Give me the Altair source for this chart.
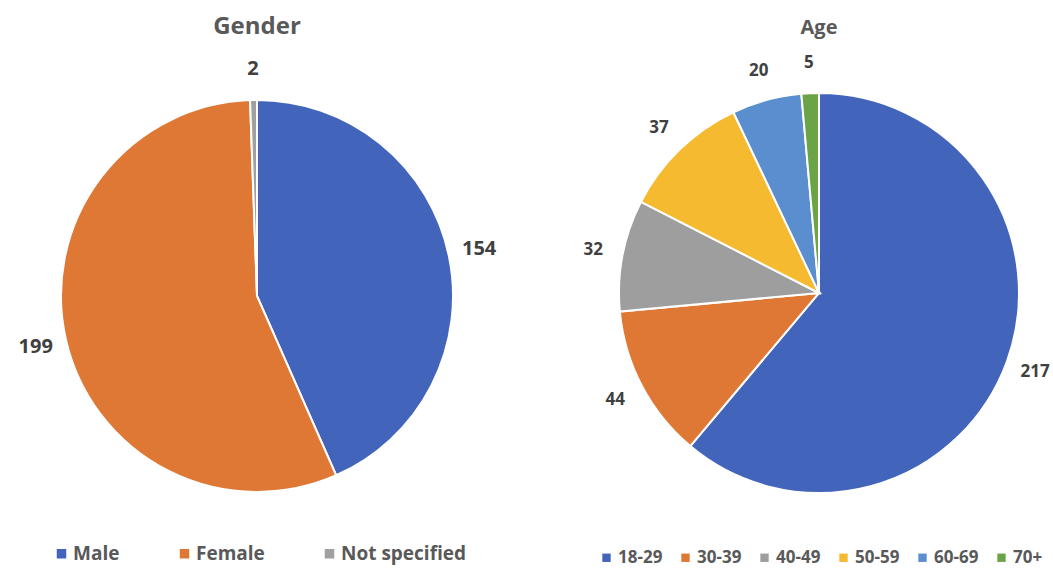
import altair as alt
import pandas as pd

# Survey respondents by gender
gender_labels = ["Male", "Female", "Not specified"]
gender_counts = [154, 199, 2]
gender_colors = ["#4264BA", "#DF7834", "#A0A0A0"]

# Survey respondents by age group
age_labels = ["18-29", "30-39", "40-49", "50-59", "60-69", "70+"]
age_counts = [217, 44, 32, 37, 20, 5]
age_colors = ["#4264BA", "#DF7834", "#9E9E9E", "#F5BA30", "#5A8ECF", "#6BA446"]

FONT = "Open Sans"

gender_df = pd.DataFrame({"group": gender_labels, "count": gender_counts,
                          "order": range(len(gender_labels))})
age_df = pd.DataFrame({"group": age_labels, "count": age_counts,
                       "order": range(len(age_labels))})


def pie(df, colors, cx, cy, r, label_size, label_gap,
        legend_x, legend_y, legend_size, symbol_size, label_offset, pad):
    base = alt.Chart(df).encode(
        theta=alt.Theta("count:Q", stack=True),
        order=alt.Order("order:Q"),
    )
    arcs = base.mark_arc(stroke="white", strokeWidth=2).encode(
        color=alt.Color(
            "group:N",
            sort=list(df["group"]),
            scale=alt.Scale(domain=list(df["group"]), range=colors),
            legend=alt.Legend(
                title=None, orient="none", direction="horizontal",
                legendX=legend_x, legendY=legend_y,
                symbolType="square", symbolSize=symbol_size,
                symbolStrokeWidth=0,
                labelFont=FONT, labelFontWeight="bold",
                labelFontSize=legend_size, labelColor="#595959",
                columnPadding=pad, symbolOffset=0, labelOffset=label_offset,
            ),
        ),
        x=alt.value(cx), y=alt.value(cy), radius=alt.value(r),
    )
    labels = base.mark_text(
        font=FONT, fontWeight="bold", fontSize=label_size, color="#404040",
    ).encode(
        text=alt.Text("count:Q"),
        x=alt.value(cx), y=alt.value(cy), radius=alt.value(r + label_gap),
    )
    return alt.layer(arcs, labels)


def heading(text, cx, cy, size):
    return alt.Chart(pd.DataFrame({"t": [text]})).mark_text(
        font=FONT, fontWeight="bold", fontSize=size, color="#595959",
    ).encode(text="t:N", x=alt.value(cx), y=alt.value(cy))


left = alt.layer(
    pie(gender_df, gender_colors, 257, 296, 196, 20, 31,
        52, 544, 19, 90, 2, 55),
    heading("Gender", 257, 27, 24),
)
right = alt.layer(
    pie(age_df, age_colors, 819, 293, 200, 17, 30,
        598, 549, 17, 70, 3, 14),
    heading("Age", 819, 28, 20),
)

chart = alt.layer(left, right).resolve_scale(
    color="independent", theta="independent"
).properties(
    width=1053, height=568, padding=0, autosize=alt.AutoSizeParams(type="none")
).configure_view(stroke=None)

chart.save("out.html", embed_options={"renderer": "svg", "actions": False})
